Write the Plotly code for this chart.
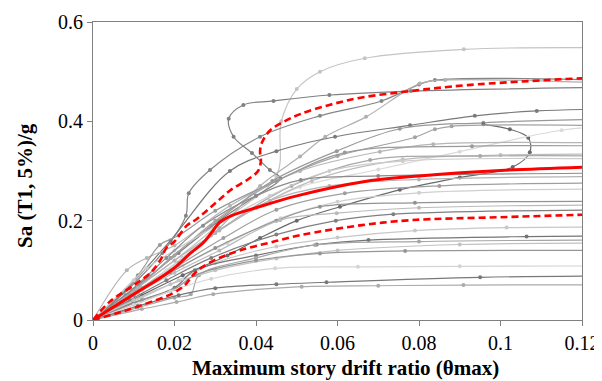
import plotly.graph_objects as go

# ---- data (drift ratio, Sa/g) ----
median_x = [0, 0.005, 0.01, 0.015, 0.02, 0.024, 0.027, 0.029, 0.031, 0.034, 0.04, 0.05, 0.066, 0.08, 0.1, 0.125]
median_y = [0, 0.026, 0.052, 0.077, 0.105, 0.135, 0.155, 0.175, 0.196, 0.21, 0.226, 0.25, 0.278, 0.29, 0.301, 0.309]

p84_x = [0, 0.004, 0.01, 0.014, 0.0165, 0.018, 0.02, 0.023, 0.0254, 0.03, 0.034, 0.038, 0.0405, 0.0412, 0.041, 0.0415, 0.0435, 0.047, 0.051, 0.058, 0.066, 0.078, 0.092, 0.125]
p84_y = [0, 0.036, 0.07, 0.094, 0.12, 0.145, 0.158, 0.19, 0.203, 0.235, 0.263, 0.283, 0.3, 0.32, 0.34, 0.358, 0.382, 0.4, 0.415, 0.433, 0.448, 0.461, 0.473, 0.489]

p16_x = [0, 0.006, 0.012, 0.0196, 0.0225, 0.0245, 0.0265, 0.031, 0.036, 0.043, 0.051, 0.066, 0.078, 0.1, 0.125]
p16_y = [0, 0.014, 0.03, 0.054, 0.07, 0.09, 0.105, 0.125, 0.14, 0.155, 0.171, 0.191, 0.201, 0.207, 0.213]

records_x = [
    [0, 0.008, 0.02, 0.032, 0.045, 0.0462, 0.05, 0.0557, 0.0667, 0.091, 0.13],
    [0, 0.011, 0.021, 0.031, 0.04, 0.046, 0.0434, 0.039, 0.0345, 0.0333, 0.0369, 0.0443, 0.058, 0.078, 0.13],
    [0, 0.009, 0.017, 0.0228, 0.0235, 0.0287, 0.041, 0.0557, 0.0708, 0.08, 0.0839, 0.13],
    [0, 0.012, 0.022, 0.031, 0.041, 0.0508, 0.057, 0.067, 0.0802, 0.0864, 0.13],
    [0, 0.008, 0.019, 0.0336, 0.045, 0.0594, 0.0778, 0.0937, 0.1089, 0.13],
    [0, 0.011, 0.019, 0.029, 0.044, 0.0598, 0.0753, 0.0958, 0.13],
    [0, 0.012, 0.022, 0.033, 0.041, 0.05, 0.0606, 0.0753, 0.09, 0.103, 0.1072, 0.1068, 0.1023, 0.0958],
    [0, 0.009, 0.018, 0.028, 0.04, 0.0508, 0.07, 0.09, 0.115, 0.13],
    [0, 0.01, 0.02, 0.03, 0.045, 0.06, 0.079, 0.0839, 0.088, 0.13],
    [0, 0.0083, 0.0132, 0.02, 0.0336, 0.0508, 0.0704, 0.0835, 0.13],
    [0, 0.011, 0.0164, 0.021, 0.03, 0.045, 0.0618, 0.093, 0.13],
    [0, 0.009, 0.019, 0.029, 0.0537, 0.076, 0.1, 0.13],
    [0, 0.012, 0.021, 0.03, 0.0487, 0.068, 0.095, 0.13],
    [0, 0.01, 0.0131, 0.02, 0.0434, 0.058, 0.076, 0.13],
    [0, 0.008, 0.018, 0.027, 0.04, 0.051, 0.07, 0.13],
    [0, 0.011, 0.02, 0.031, 0.0434, 0.058, 0.08, 0.13],
    [0, 0.009, 0.021, 0.032, 0.045, 0.0618, 0.085, 0.13],
    [0, 0.012, 0.022, 0.033, 0.046, 0.06, 0.08, 0.13],
    [0, 0.01, 0.019, 0.03, 0.045, 0.0557, 0.079, 0.13],
    [0, 0.011, 0.02, 0.031, 0.0459, 0.0598, 0.08, 0.13],
    [0, 0.009, 0.018, 0.029, 0.045, 0.0596, 0.0737, 0.13],
    [0, 0.012, 0.021, 0.03, 0.045, 0.06, 0.079, 0.1015, 0.13],
    [0, 0.01, 0.02, 0.025, 0.04, 0.0549, 0.0676, 0.1064, 0.13],
    [0, 0.011, 0.02, 0.024, 0.026, 0.04, 0.0545, 0.08, 0.13],
    [0, 0.01, 0.019, 0.03, 0.045, 0.06, 0.09, 0.13],
    [0, 0.012, 0.02, 0.025, 0.04, 0.0557, 0.0766, 0.13],
    [0, 0.01, 0.019, 0.029, 0.0447, 0.065, 0.09, 0.13],
    [0, 0.011, 0.021, 0.03, 0.045, 0.0573, 0.095, 0.13],
    [0, 0.012, 0.0205, 0.0295, 0.0512, 0.07, 0.0909, 0.13],
]
records_y = [
    [0, 0.05, 0.12, 0.2, 0.29, 0.40, 0.465, 0.50, 0.527, 0.545, 0.548],
    [0, 0.07, 0.135, 0.2, 0.25, 0.285, 0.302, 0.336, 0.369, 0.405, 0.433, 0.441, 0.453, 0.461, 0.469],
    [0, 0.065, 0.135, 0.21, 0.255, 0.302, 0.369, 0.411, 0.441, 0.474, 0.483, 0.482],
    [0, 0.065, 0.125, 0.185, 0.27, 0.329, 0.369, 0.409, 0.476, 0.483, 0.476],
    [0, 0.06, 0.16, 0.30, 0.34, 0.369, 0.392, 0.411, 0.421, 0.425],
    [0, 0.065, 0.125, 0.19, 0.28, 0.34, 0.385, 0.397, 0.405],
    [0, 0.05, 0.09, 0.13, 0.165, 0.2, 0.228, 0.262, 0.287, 0.308, 0.338, 0.367, 0.384, 0.394],
    [0, 0.045, 0.1, 0.165, 0.225, 0.268, 0.303, 0.339, 0.382, 0.392],
    [0, 0.06, 0.13, 0.2, 0.28, 0.33, 0.368, 0.384, 0.39, 0.391],
    [0, 0.1, 0.125, 0.15, 0.23, 0.3, 0.339, 0.354, 0.356],
    [0, 0.09, 0.151, 0.17, 0.22, 0.28, 0.337, 0.35, 0.35],
    [0, 0.045, 0.1, 0.17, 0.28, 0.323, 0.332, 0.334],
    [0, 0.06, 0.115, 0.175, 0.27, 0.322, 0.33, 0.33],
    [0, 0.08, 0.104, 0.14, 0.25, 0.3, 0.32, 0.324],
    [0, 0.05, 0.125, 0.19, 0.25, 0.282, 0.29, 0.296],
    [0, 0.065, 0.12, 0.18, 0.24, 0.27, 0.283, 0.289],
    [0, 0.05, 0.11, 0.165, 0.222, 0.255, 0.27, 0.276],
    [0, 0.06, 0.11, 0.155, 0.205, 0.238, 0.256, 0.264],
    [0, 0.05, 0.095, 0.145, 0.2, 0.228, 0.236, 0.239],
    [0, 0.055, 0.095, 0.14, 0.201, 0.215, 0.226, 0.232],
    [0, 0.04, 0.08, 0.125, 0.172, 0.2, 0.213, 0.222],
    [0, 0.045, 0.08, 0.115, 0.148, 0.166, 0.18, 0.186, 0.187],
    [0, 0.035, 0.065, 0.1, 0.13, 0.152, 0.161, 0.168, 0.169],
    [0, 0.025, 0.045, 0.052, 0.09, 0.125, 0.151, 0.158, 0.161],
    [0, 0.04, 0.072, 0.1, 0.124, 0.14, 0.152, 0.155],
    [0, 0.04, 0.062, 0.09, 0.12, 0.134, 0.139, 0.14],
    [0, 0.03, 0.058, 0.083, 0.104, 0.107, 0.108, 0.109],
    [0, 0.028, 0.05, 0.064, 0.072, 0.076, 0.086, 0.089],
    [0, 0.022, 0.036, 0.052, 0.067, 0.069, 0.0704, 0.071],
]
record_colors = ["#c4c4c4", "#808080", "#858585", "#b0b0b0", "#7a7a7a", "#999999",
                 "#6a6a6a", "#dadada", "#a3a3a3", "#b5b5b5", "#9a9a9a", "#bdbdbd",
                 "#a8a8a8", "#cccccc", "#8c8c8c", "#b3b3b3", "#9e9e9e", "#cfcfcf",
                 "#939393", "#bababa", "#7f7f7f", "#c8c8c8", "#757575", "#a6a6a6",
                 "#c2c2c2", "#969696", "#d4d4d4", "#787878", "#ababab"]

x_ticks = [0, 0.02, 0.04, 0.06, 0.08, 0.1, 0.12]
x_tick_labels = ["0", "0.02", "0.04", "0.06", "0.08", "0.1", "0.12"]
y_ticks = [0, 0.2, 0.4, 0.6]
y_tick_labels = ["0", "0.2", "0.4", "0.6"]

fig = go.Figure()
for xs, ys, c in zip(records_x, records_y, record_colors):
    fig.add_trace(go.Scatter(x=xs, y=ys, mode="lines+markers",
                             line=dict(color=c, width=1.2, shape="spline", smoothing=1.0),
                             marker=dict(color=c, size=4), showlegend=False, hoverinfo="skip"))

fig.add_trace(go.Scatter(x=median_x, y=median_y, mode="lines",
                         line=dict(color="#ff0000", width=3, shape="spline", smoothing=1.0),
                         showlegend=False))
for xs, ys in ((p84_x, p84_y), (p16_x, p16_y)):
    fig.add_trace(go.Scatter(x=xs, y=ys, mode="lines",
                             line=dict(color="#ff0000", width=2.6, dash="7px,4px", shape="spline", smoothing=1.0),
                             showlegend=False))

serif = "Liberation Serif"
axis_font = dict(family=serif, size=20, color="black")
title_font = dict(family=serif, size=21, color="black")

# the page puts the figure 8px in from the top-left corner of the window
fig.update_layout(
    width=594, height=373,
    margin=dict(l=85, r=20, t=14, b=61, autoexpand=False),
    paper_bgcolor="white", plot_bgcolor="white",
    font=dict(family=serif),
    xaxis=dict(range=[0, 0.12], tickvals=x_ticks, ticktext=x_tick_labels, automargin=False,
               showgrid=False, zeroline=False, showline=True, linecolor="#808080", linewidth=1.2,
               mirror=True, ticks="outside", ticklen=5, tickcolor="#808080",
               tickfont=axis_font),
    yaxis=dict(range=[0, 0.6], tickvals=y_ticks, ticktext=y_tick_labels, automargin=False,
               showgrid=False, zeroline=False, showline=True, linecolor="#808080", linewidth=1.2,
               mirror=True, ticks="outside", ticklen=5, tickcolor="#808080",
               tickfont=axis_font),
    annotations=[
        dict(text="<b>Maximum story drift ratio (θmax)</b>", xref="paper", yref="paper",
             x=0.517, y=0, yshift=-48, xanchor="center", yanchor="middle",
             showarrow=False, font=title_font),
        dict(text="<b>Sa (T1, 5%)/g</b>", xref="paper", yref="paper",
             x=0, xshift=-68, y=0.45, xanchor="center", yanchor="middle", textangle=-90,
             showarrow=False, font=title_font),
    ],
)

fig.write_html("out.html")
